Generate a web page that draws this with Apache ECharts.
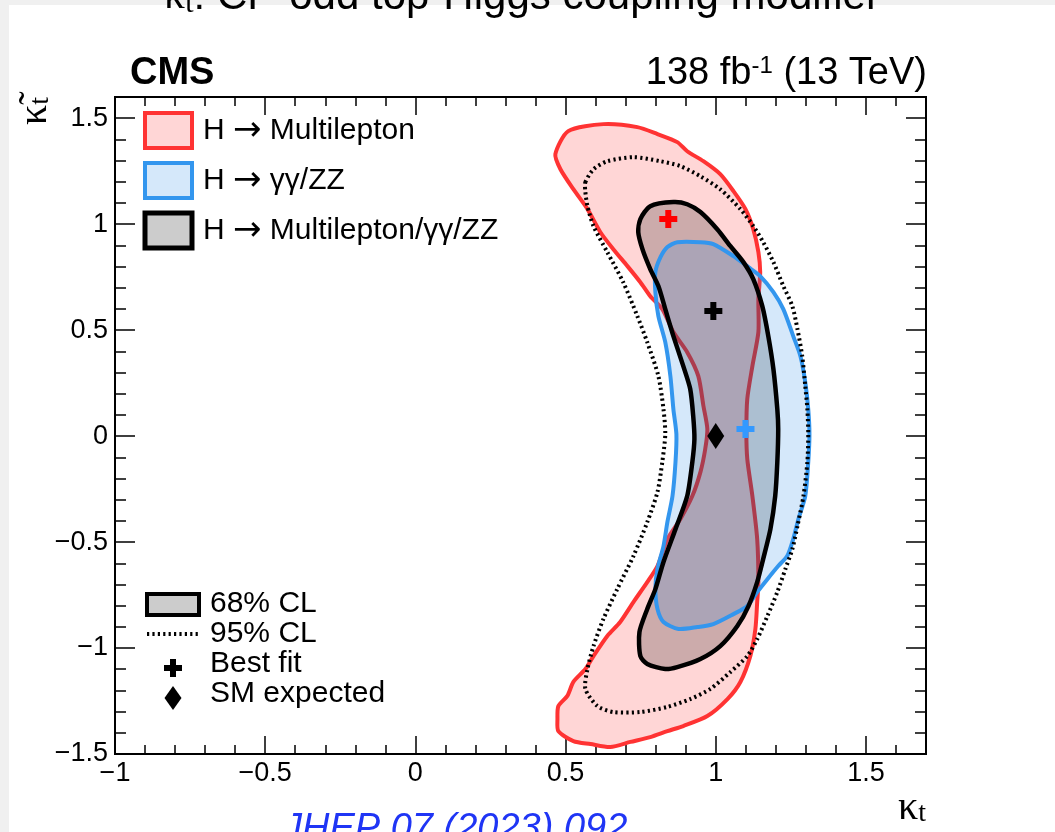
<!DOCTYPE html>
<html>
<head>
<meta charset="utf-8">
<script src="https://cdn.jsdelivr.net/npm/echarts@6/dist/echarts.min.js"></script>
<style>
  html, body { margin: 0; padding: 0; background: #ffffff; }
  #chart { width: 1055px; height: 832px; }
</style>
</head>
<body>
<div id="chart"></div>
<script>
// Axis ranges and tick labels
const xRange = [-1, 1.7];
const yRange = [-1.5, 1.6];
const xTickLabels = [-1, -0.5, 0, 0.5, 1, 1.5];
const yTickLabels = [-1.5, -1, -0.5, 0, 0.5, 1, 1.5];

// 68% CL contour, H -> Multilepton  [kappa_t, kappa~_t]
const multileptonCL68 = [
  [0.466, 1.330], [0.509, 1.439], [0.626, 1.472], [0.739, 1.458], [0.806, 1.425],
  [0.872, 1.387], [0.905, 1.344], [0.959, 1.297], [1.015, 1.236], [1.059, 1.156],
  [1.099, 1.071], [1.125, 0.976], [1.142, 0.868], [1.148, 0.774], [1.142, 0.646],
  [1.142, 0.491], [1.122, 0.330], [1.105, 0.175], [1.102, 0.019], [1.105, -0.108],
  [1.122, -0.283], [1.138, -0.486], [1.142, -0.689], [1.138, -0.783], [1.132, -0.910],
  [1.115, -1.038], [1.082, -1.160], [1.039, -1.241], [0.972, -1.321], [0.892, -1.368],
  [0.839, -1.392], [0.782, -1.420], [0.716, -1.443], [0.649, -1.467], [0.583, -1.453],
  [0.526, -1.439], [0.476, -1.392], [0.473, -1.335], [0.476, -1.274], [0.506, -1.226],
  [0.526, -1.160], [0.566, -1.099], [0.593, -1.038], [0.639, -0.943], [0.682, -0.877],
  [0.726, -0.783], [0.772, -0.689], [0.806, -0.613], [0.839, -0.486], [0.882, -0.392],
  [0.922, -0.283], [0.949, -0.170], [0.965, -0.061], [0.972, 0.033], [0.959, 0.142],
  [0.942, 0.283], [0.905, 0.396], [0.859, 0.491], [0.822, 0.599], [0.782, 0.660],
  [0.749, 0.726], [0.706, 0.802], [0.659, 0.882], [0.616, 0.962], [0.573, 1.071],
  [0.526, 1.165], [0.483, 1.259]
];

// 68% CL contour, H -> gamma gamma / ZZ
const gammaZZCL68 = [
  [0.872, 0.915], [0.949, 0.915], [0.992, 0.906], [1.059, 0.849], [1.109, 0.797],
  [1.148, 0.755], [1.192, 0.679], [1.225, 0.599], [1.258, 0.472], [1.282, 0.377],
  [1.298, 0.255], [1.308, 0.127], [1.312, 0.009], [1.308, -0.123], [1.298, -0.283],
  [1.275, -0.392], [1.258, -0.486], [1.238, -0.566], [1.208, -0.613], [1.172, -0.675],
  [1.138, -0.736], [1.105, -0.802], [1.059, -0.840], [0.992, -0.887], [0.939, -0.901],
  [0.876, -0.910], [0.826, -0.877], [0.806, -0.816], [0.799, -0.722], [0.806, -0.627],
  [0.826, -0.519], [0.839, -0.406], [0.856, -0.283], [0.866, -0.123], [0.869, 0.009],
  [0.859, 0.127], [0.849, 0.283], [0.832, 0.443], [0.809, 0.566], [0.799, 0.679],
  [0.799, 0.774], [0.816, 0.844], [0.839, 0.892]
];

// 68% CL contour, combination
const combinedCL68 = [
  [0.859, 1.104], [0.782, 1.085], [0.749, 1.024], [0.742, 0.962], [0.756, 0.882],
  [0.782, 0.788], [0.809, 0.708], [0.832, 0.599], [0.859, 0.472], [0.892, 0.330],
  [0.915, 0.222], [0.925, 0.094], [0.929, -0.014], [0.922, -0.123], [0.905, -0.283],
  [0.866, -0.439], [0.826, -0.594], [0.799, -0.722], [0.772, -0.816], [0.746, -0.925],
  [0.749, -1.038], [0.772, -1.075], [0.832, -1.099], [0.872, -1.090], [0.949, -1.052],
  [1.015, -0.991], [1.072, -0.896], [1.109, -0.802], [1.138, -0.689], [1.158, -0.580],
  [1.182, -0.439], [1.198, -0.283], [1.205, -0.123], [1.208, 0.033], [1.205, 0.127],
  [1.192, 0.316], [1.175, 0.472], [1.155, 0.613], [1.125, 0.741], [1.092, 0.821],
  [1.049, 0.896], [1.005, 0.976], [0.949, 1.057], [0.905, 1.094]
];

// 95% CL contour, combination
const combinedCL95 = [
  [0.566, 1.198], [0.593, 1.259], [0.639, 1.297], [0.726, 1.316], [0.816, 1.297],
  [0.882, 1.274], [0.949, 1.226], [1.015, 1.165], [1.082, 1.071], [1.125, 0.991],
  [1.158, 0.915], [1.192, 0.821], [1.225, 0.708], [1.255, 0.613], [1.272, 0.505],
  [1.288, 0.377], [1.298, 0.236], [1.305, 0.127], [1.308, 0.009], [1.305, -0.123],
  [1.292, -0.283], [1.272, -0.425], [1.255, -0.533], [1.232, -0.627], [1.205, -0.736],
  [1.172, -0.849], [1.138, -0.958], [1.105, -1.038], [1.049, -1.113], [0.982, -1.193],
  [0.915, -1.241], [0.839, -1.278], [0.749, -1.302], [0.659, -1.302], [0.606, -1.274],
  [0.566, -1.193], [0.573, -1.099], [0.593, -0.991], [0.626, -0.863], [0.672, -0.722],
  [0.726, -0.566], [0.772, -0.406], [0.806, -0.264], [0.822, -0.123], [0.832, 0.009],
  [0.826, 0.127], [0.809, 0.283], [0.772, 0.443], [0.739, 0.566], [0.692, 0.726],
  [0.639, 0.868], [0.593, 0.991], [0.573, 1.085], [0.566, 1.151]
];

// Best-fit points and SM expectation
const bestFitMultilepton = [0.842, 1.024];
const bestFitGammaZZ = [1.099, 0.033];
const bestFitCombined = [0.992, 0.590];
const smExpected = [1, 0];

const SANS = '"Liberation Sans", Arial, Helvetica, sans-serif';
const SERIF = '"Liberation Serif", "DejaVu Serif", serif';
const ARROW = '"DejaVu Sans", sans-serif';

const RED = '#ff3333';
const BLUE = '#3396ee';
const PLUS = 'path://M6,0H12V6H18V12H12V18H6V12H0V6H6Z';

const chart = echarts.init(document.getElementById('chart'), null, { renderer: 'canvas' });

function fmtTick(v) {
  const r = Math.round(v * 10) / 10;
  return r < 0 ? '\u2212' + String(-r) : String(r);
}

function axisSet(range, interval, position, tickLen, withLabels, labelList) {
  return {
    type: 'value', min: range[0], max: range[1], interval: interval,
    position: position,
    axisLine: { show: false, onZero: false },
    splitLine: { show: false },
    axisTick: { show: true, inside: true, length: tickLen, lineStyle: { color: '#000', width: 1.5 } },
    axisLabel: withLabels ? {
      show: true, margin: position === 'bottom' ? 6 : 7, fontSize: 27, fontFamily: SANS, color: '#000',
      showMaxLabel: false,
      formatter: v => (labelList.some(t => Math.abs(t - v) < 1e-6) ? fmtTick(v) : '')
    } : { show: false }
  };
}

function contour(name, pts, style, z) {
  return {
    type: 'custom', name: name, xAxisIndex: 0, yAxisIndex: 0, z: z, silent: true,
    data: [[1, 0]],
    renderItem: (params, api) => ({
      type: 'polygon',
      shape: { points: pts.map(p => api.coord(p)), smooth: 0.25 },
      style: style
    })
  };
}

function marker(name, pt, symbol, size, color, z) {
  return {
    type: 'scatter', name: name, xAxisIndex: 0, yAxisIndex: 0, z: z, silent: true,
    symbol: symbol, symbolSize: size,
    itemStyle: { color: color, opacity: 1 },
    data: [pt]
  };
}

function plusPts(cx, cy, h, a) {
  return [[cx - a, cy - h], [cx + a, cy - h], [cx + a, cy - a], [cx + h, cy - a], [cx + h, cy + a],
          [cx + a, cy + a], [cx + a, cy + h], [cx - a, cy + h], [cx - a, cy + a], [cx - h, cy + a],
          [cx - h, cy - a], [cx - a, cy - a]];
}

const kappaRich = {
  k: { fontFamily: SERIF, fontSize: 40, lineHeight: 40, fill: '#000', verticalAlign: 'middle' },
  sub: { fontFamily: SERIF, fontSize: 28, lineHeight: 26, verticalAlign: 'bottom' }
};

const legendRich = {
  t: { fontFamily: SANS, fontSize: 30, lineHeight: 34, verticalAlign: 'middle' },
  a: { fontFamily: ARROW, fontSize: 34, lineHeight: 34, verticalAlign: 'middle' }
};

function legendText(y, label) {
  return { type: 'text', x: 203, y: y, z: 10, style: {
    text: '{t|H }{a|\u2192}{t| ' + label + '}', fill: '#000', align: 'left', verticalAlign: 'middle', rich: legendRich } };
}

function styleText(y, label) {
  return { type: 'text', x: 210, y: y, z: 10, style: { text: label, font: '30px ' + SANS, fill: '#000', align: 'left', verticalAlign: 'middle' } };
}

const option = {
  animation: false,
  backgroundColor: '#ffffff',
  grid: { left: 115, top: 97, width: 811, height: 657, show: true, borderColor: '#000', borderWidth: 2, backgroundColor: 'transparent' },
  xAxis: [
    axisSet(xRange, 0.5, 'bottom', 18, true, xTickLabels),
    axisSet(xRange, 0.1, 'bottom', 9, false),
    axisSet(xRange, 0.5, 'top', 18, false),
    axisSet(xRange, 0.1, 'top', 9, false)
  ],
  yAxis: [
    axisSet(yRange, 0.5, 'left', 20, true, yTickLabels),
    axisSet(yRange, 0.1, 'left', 11, false),
    axisSet(yRange, 0.5, 'right', 20, false),
    axisSet(yRange, 0.1, 'right', 11, false)
  ],
  series: [
    contour('H \u2192 Multilepton', multileptonCL68,
      { fill: 'rgba(255,51,51,0.2)', stroke: RED, lineWidth: 4, lineJoin: 'round' }, 2),
    contour('Combined fill', combinedCL68,
      { fill: 'rgba(0,0,0,0.2)', stroke: null, lineWidth: 0 }, 3),
    contour('H \u2192 \u03b3\u03b3/ZZ', gammaZZCL68,
      { fill: 'rgba(46,140,230,0.2)', stroke: BLUE, lineWidth: 4, lineJoin: 'round' }, 4),
    contour('H \u2192 Multilepton/\u03b3\u03b3/ZZ', combinedCL68,
      { fill: null, stroke: '#000', lineWidth: 4.5, lineJoin: 'round' }, 5),
    contour('95% CL', combinedCL95,
      { fill: null, stroke: '#000', lineWidth: 4, lineDash: [2.2, 3.2] }, 5),
    marker('Best fit multilepton', bestFitMultilepton, PLUS, 18, '#ff0000', 6),
    marker('Best fit gg/ZZ', bestFitGammaZZ, PLUS, 18, '#3399ff', 6),
    marker('Best fit combined', bestFitCombined, PLUS, 18, '#000', 6),
    marker('SM expected', smExpected, 'diamond', [17, 26], '#000', 6)
  ],
  graphic: [
    // page margins
    { type: 'rect', shape: { x: 0, y: 0, width: 1055, height: 5 }, style: { fill: '#f0f0f0' }, z: 0 },
    { type: 'rect', shape: { x: 0, y: 0, width: 9, height: 832 }, style: { fill: '#f0f0f0' }, z: 0 },
    // title
    { type: 'text', x: 522, y: -3, z: 10, style: {
        text: '{k|\u03ba\u0303}{sub|t}{r|: CP-odd top-Higgs coupling modifier}',
        align: 'center', verticalAlign: 'middle',
        rich: {
          k: { fontFamily: SERIF, fontSize: 42, lineHeight: 44, verticalAlign: 'middle' },
          sub: { fontFamily: SERIF, fontSize: 30, lineHeight: 28, verticalAlign: 'bottom' },
          r: { fontFamily: SANS, fontSize: 42, lineHeight: 44, verticalAlign: 'middle' }
        }, fill: '#000' } },
    // CMS label and luminosity
    { type: 'text', x: 130, y: 74, z: 10, style: { text: 'CMS', font: 'bold 38px ' + SANS, fill: '#000', align: 'left', verticalAlign: 'middle' } },
    { type: 'text', x: 927, y: 74, z: 10, style: {
        text: '{n|138 fb}{s|-1}{n| (13 TeV)}', align: 'right', verticalAlign: 'middle', fill: '#000',
        rich: {
          n: { fontFamily: SANS, fontSize: 38, lineHeight: 40, verticalAlign: 'middle' },
          s: { fontFamily: SANS, fontSize: 24, lineHeight: 26, verticalAlign: 'top' }
        } } },
    // axis titles
    { type: 'text', x: 926, y: 808, z: 10, style: {
        text: '{k|\u03ba}{sub|t}', align: 'right', verticalAlign: 'middle', fill: '#000', rich: kappaRich } },
    { type: 'text', x: 35, y: 97, rotation: Math.PI / 2, z: 10, style: {
        text: '{k|\u03ba\u0303}{sub|t}', align: 'right', verticalAlign: 'middle', fill: '#000', rich: kappaRich } },
    // legend: channels
    { type: 'rect', z: 10, shape: { x: 145, y: 113, width: 47, height: 35 }, style: { fill: 'rgba(255,51,51,0.2)', stroke: RED, lineWidth: 4 } },
    { type: 'rect', z: 10, shape: { x: 145, y: 163, width: 47, height: 35 }, style: { fill: 'rgba(46,140,230,0.2)', stroke: BLUE, lineWidth: 4 } },
    { type: 'rect', z: 10, shape: { x: 145, y: 213, width: 47, height: 35 }, style: { fill: '#cccccc', stroke: '#000', lineWidth: 5 } },
    legendText(131, 'Multilepton'),
    legendText(181, '\u03b3\u03b3/ZZ'),
    legendText(231, 'Multilepton/\u03b3\u03b3/ZZ'),
    // legend: line styles and markers
    { type: 'rect', z: 10, shape: { x: 147, y: 594, width: 52, height: 21 }, style: { fill: '#cccccc', stroke: '#000', lineWidth: 4 } },
    { type: 'line', z: 10, shape: { x1: 147, y1: 634, x2: 199, y2: 634 }, style: { stroke: '#000', lineWidth: 4, lineDash: [2.2, 3.2] } },
    { type: 'polygon', z: 10, shape: { points: plusPts(173, 668, 9, 3) }, style: { fill: '#000' } },
    { type: 'polygon', z: 10, shape: { points: [[173, 686], [181.5, 698], [173, 710], [164.5, 698]] }, style: { fill: '#000' } },
    styleText(604, '68% CL'),
    styleText(634, '95% CL'),
    styleText(664, 'Best fit'),
    styleText(694, 'SM expected'),
    // journal reference
    { type: 'text', x: 283, y: 829, z: 10, style: { text: 'JHEP 07 (2023) 092', font: 'italic 38px ' + SANS, fill: '#1f35f5', align: 'left', verticalAlign: 'middle' } }
  ]
};

chart.setOption(option);
</script>
</body>
</html>
